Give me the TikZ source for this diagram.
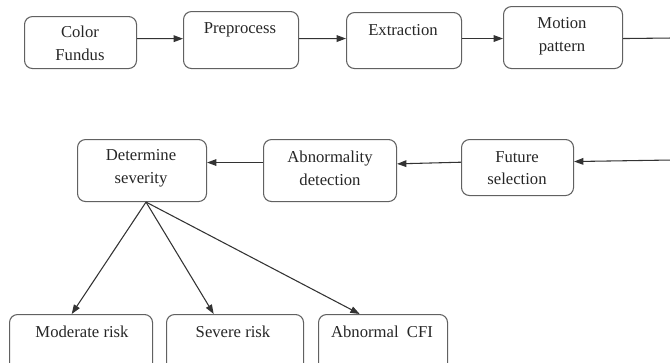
\documentclass[tikz,border=0pt]{standalone}
\usepackage{fontspec}
\setmainfont{Liberation Serif}
\usetikzlibrary{arrows.meta}
\begin{document}
\begin{tikzpicture}[x=0.75pt,y=-0.75pt,
  box/.style={draw=black!62,line width=0.8pt,rounded corners=6pt,anchor=north west,inner sep=0pt},
  txt/.style={font=\fontsize{12.5}{17}\selectfont,align=center,inner sep=0pt,text=black!85},
  arr/.style={draw=black!80,line width=0.8pt,-{Triangle[length=7pt,width=5pt]}},
  ln/.style={draw=black!80,line width=0.8pt}]
\useasboundingbox (0,0) rectangle (670,362);
\clip (0,0) rectangle (670,362);
% top row
\node[box,minimum width=112*0.75pt,minimum height=52*0.75pt] (cf) at (24,16) {};
\node[box,minimum width=115*0.75pt,minimum height=57*0.75pt] (pp) at (183,11) {};
\node[box,minimum width=115*0.75pt,minimum height=56*0.75pt] (ex) at (346,12) {};
\node[box,minimum width=119*0.75pt,minimum height=62*0.75pt] (mp) at (503,6) {};
\node[txt] (tcf) at (80,43) {Color\\Fundus};
\node[txt] (tpp) at (240,30) {Preprocess};
\node[txt] (tex) at (403,30) {Extraction};
\node[txt] (tmp) at (562,36) {Motion\\pattern};
% middle row
\node[box,minimum width=129*0.75pt,minimum height=62*0.75pt] (ds) at (77,139) {};
\node[box,minimum width=133*0.75pt,minimum height=62*0.75pt] (ad) at (263,139) {};
\node[box,minimum width=112*0.75pt,minimum height=56*0.75pt] (fs) at (461,139) {};
\node[txt] (tds) at (141,168) {Determine\\severity};
\node[txt] (tad) at (330,168) {Abnormality\\detection};
\node[txt] (tfs) at (517,168) {Future\\selection};
% bottom row
\node[box,minimum width=143*0.75pt,minimum height=60*0.75pt] (mr) at (9,314) {};
\node[box,minimum width=137*0.75pt,minimum height=60*0.75pt] (sr) at (166,314) {};
\node[box,minimum width=129*0.75pt,minimum height=60*0.75pt] (ac) at (318,314) {};
\node[txt] (tmr) at (82,332) {Moderate risk};
\node[txt] (tsr) at (233,332) {Severe risk};
\node[txt] (tac) at (382,332) {Abnormal\ \ CFI};
% connectors
\coordinate (r1) at (672,38);
\coordinate (r2) at (672,160);
\draw[arr] ([yshift=3pt]cf.east) -- ([yshift=1pt]pp.west);
\draw[arr] ([yshift=1pt]pp.east) -- ([yshift=1.5pt]ex.west);
\draw[arr] ([yshift=1.5pt]ex.east) -- ([yshift=-0.75pt]mp.west);
\draw[ln] ([yshift=-0.75pt]mp.east) -- (r1);
\draw[arr] (r2) -- ([yshift=4.5pt]fs.east);
\draw[arr] ([yshift=4pt]fs.west) -- ([yshift=5pt]ad.east);
\draw[arr] ([yshift=6pt]ad.west) -- ([yshift=6pt]ds.east);
\draw[arr] ([xshift=3pt]ds.south) -- ([xshift=-7pt]mr.north);
\draw[arr] ([xshift=3pt]ds.south) -- ([xshift=-16pt]sr.north);
\draw[arr] ([xshift=3pt]ds.south) -- ([xshift=-17.5pt]ac.north);
\end{tikzpicture}
\end{document}
